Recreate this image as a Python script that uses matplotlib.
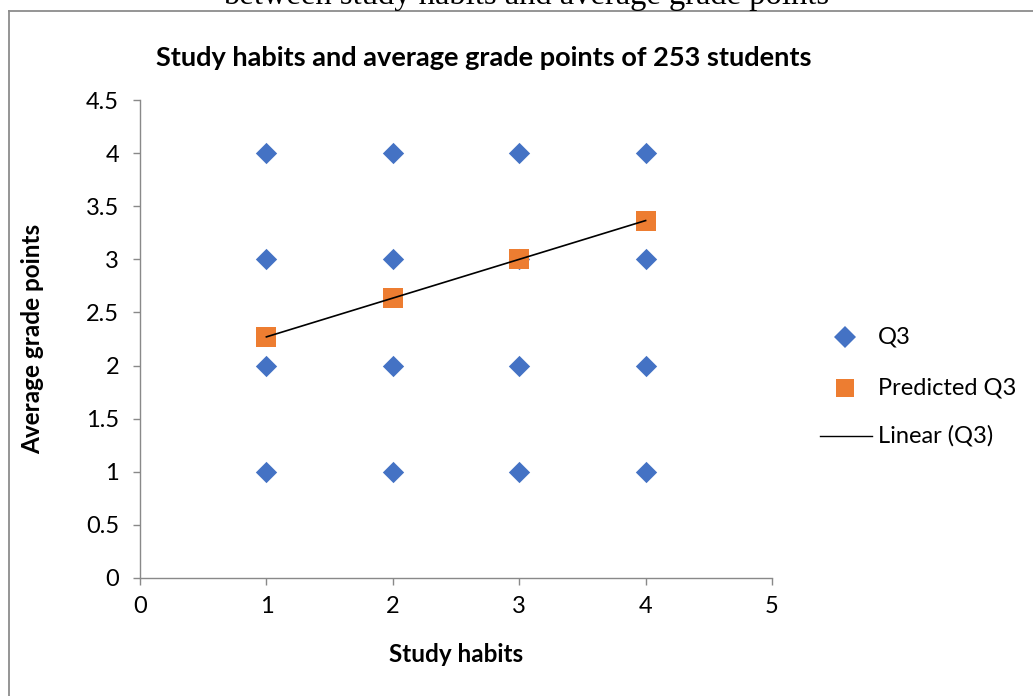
import numpy as np
import matplotlib.pyplot as plt
from matplotlib.lines import Line2D

# observed answers (study habits vs grade points)
q3_x = [1, 1, 1, 1, 2, 2, 2, 2, 3, 3, 3, 3, 4, 4, 4, 4]
q3_y = [1, 2, 3, 4, 1, 2, 3, 4, 1, 2, 3, 4, 1, 2, 3, 4]

# predicted values
pred_x = [1, 2, 3, 4]
pred_y = [2.27, 2.635, 3.0, 3.365]

blue = '#4472C4'
orange = '#ED7D31'
axis_gray = '#898989'

plt.rcParams['font.family'] = ['Lato', 'DejaVu Sans']

fig = plt.figure(figsize=(10.33, 6.96), dpi=100)
W, H = 1033, 696


def fx(px):
    return px / W


def fy(py):
    return 1 - py / H


# chart frame (Excel style border, clipped by the page)
fig.add_artist(Line2D([fx(8.5), fx(8.5)], [fy(11), 0], color='#8C8C8C', lw=1.3))
fig.add_artist(Line2D([fx(8.5), 1], [fy(11), fy(11)], color='#8C8C8C', lw=1.3))

# clipped caption from the page above the chart
fig.text(fx(526), fy(4), 'between study habits and average grade points',
         family='Liberation Serif', fontsize=23.5, ha='center', va='baseline')

ax = fig.add_axes([fx(140), fy(578), fx(772) - fx(140), fy(100) - fy(578)])

ax.scatter(q3_x, q3_y, marker='D', s=118, color=blue, zorder=3, label='Q3', linewidths=0)
ax.scatter(pred_x, pred_y, marker='s', s=190, color=orange, zorder=4, label='Predicted Q3', linewidths=0)

# linear trend line
coef = np.polyfit(pred_x, pred_y, 1)
tx = np.array([min(pred_x), max(pred_x)])
ax.plot(tx, np.polyval(coef, tx), color='black', lw=1.2, zorder=5, label='Linear (Q3)')

ax.set_xlim(0, 5)
ax.set_ylim(0, 4.5)
ax.set_xticks(range(0, 6))
ax.set_yticks(np.arange(0, 4.51, 0.5))
ax.set_yticklabels(['0', '0.5', '1', '1.5', '2', '2.5', '3', '3.5', '4', '4.5'])

for s in ['top', 'right']:
    ax.spines[s].set_visible(False)
for s in ['left', 'bottom']:
    ax.spines[s].set_color(axis_gray)
    ax.spines[s].set_linewidth(1.0)
ax.tick_params(axis='both', colors=axis_gray, labelcolor='black', labelsize=17,
               length=5, width=1.0, direction='out')
ax.tick_params(axis='x', pad=8)
ax.tick_params(axis='y', pad=10)

fig.text(fx(484), fy(58), 'Study habits and average grade points of 253 students',
         fontsize=19.5, fontweight='bold', ha='center', va='center')
fig.text(fx(456), fy(654), 'Study habits', fontsize=17.5, fontweight='bold',
         ha='center', va='center')
fig.text(fx(33), fy(339), 'Average grade points', fontsize=17.5, fontweight='bold',
         ha='center', va='center', rotation=90)

# legend drawn by hand to follow the original layout
fig.add_artist(Line2D([fx(845)], [fy(337)], marker='D', markersize=11, color=blue, lw=0, mew=0))
fig.text(fx(878), fy(337), 'Q3', fontsize=17, va='center')
fig.add_artist(Line2D([fx(845)], [fy(388)], marker='s', markersize=12.5, color=orange, lw=0, mew=0))
fig.text(fx(878), fy(388), 'Predicted Q3', fontsize=17, va='center')
fig.add_artist(Line2D([fx(820), fx(872)], [fy(436), fy(436)], color='black', lw=1.0))
fig.text(fx(878), fy(436), 'Linear (Q3)', fontsize=17, va='center')

fig.savefig('out.png', dpi=100)
